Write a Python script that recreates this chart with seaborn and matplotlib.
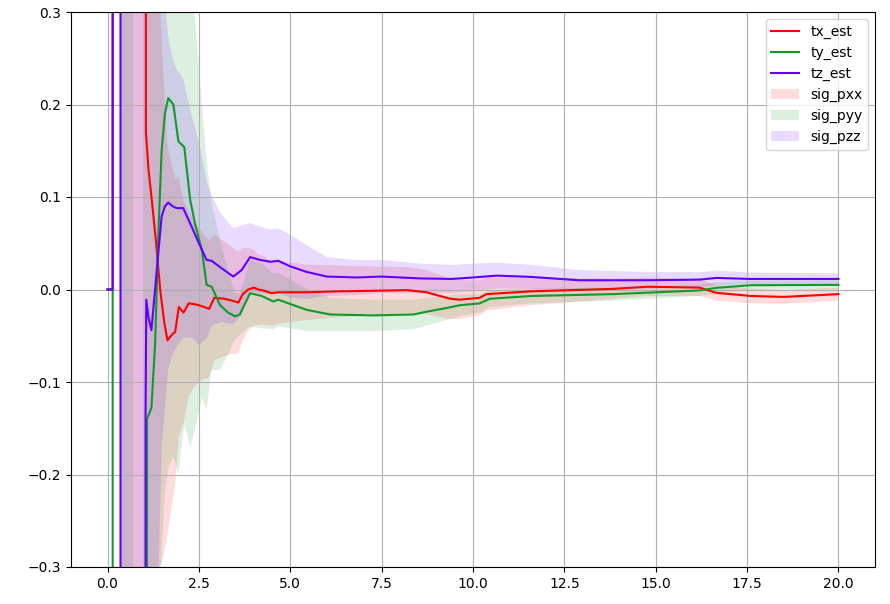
import numpy as np
import matplotlib
matplotlib.use("Agg")
import matplotlib.pyplot as plt
import seaborn as sns

# tx estimate and its sigma band
t_x = [0.0, 0.14, 0.15, 0.35, 0.36, 0.99, 1.0, 1.05, 1.12, 1.21, 1.33, 1.44, 1.55, 1.64, 1.78, 1.85,
       1.95, 2.08, 2.22, 2.4, 2.58, 2.78, 2.92, 3.2, 3.4, 3.58, 3.7, 3.85, 4.0, 4.13, 4.26, 4.49, 4.67,
       5.45, 6.33, 6.82, 8.2, 8.73, 9.37, 9.64, 10.18, 10.37, 11.6, 13.84, 14.78, 16.2, 16.66, 17.6,
       18.5, 20.0]
tx_est = [0.0, 0.0, 8.0, 8.0, 8.0, 8.0, 8.0, 0.17, 0.13, 0.097, 0.05, 0.0, -0.035, -0.055, -0.048, -0.046,
          -0.019, -0.025, -0.015, -0.016, -0.018, -0.021, -0.009, -0.010, -0.012, -0.014, -0.005, 0.0, 0.002,
          0.0, -0.001, -0.004, -0.003, -0.003, -0.002, -0.0017, -0.0007, -0.003, -0.010, -0.011, -0.009,
          -0.005, -0.002, 0.0007, 0.003, 0.002, -0.0036, -0.007, -0.008, -0.005]
sig_pxx = [0.0, 0.0, 0.0, 0.0, 9.0, 9.0, 9.0, 0.5, 0.46, 0.42, 0.35, 0.3, 0.25, 0.21, 0.18, 0.165,
           0.14, 0.12, 0.1, 0.088, 0.08, 0.074, 0.068, 0.062, 0.058, 0.055, 0.05, 0.045, 0.041, 0.038,
           0.037, 0.035, 0.034, 0.03, 0.028, 0.027, 0.025, 0.024, 0.022, 0.021, 0.019, 0.018, 0.015,
           0.011, 0.01, 0.009, 0.0085, 0.008, 0.0075, 0.007]

# ty estimate and its sigma band
t_y = [0.0, 0.14, 0.15, 0.35, 0.36, 0.7, 0.71, 0.96, 0.97, 1.04, 1.08, 1.2, 1.3, 1.4, 1.48, 1.57, 1.66,
       1.8, 1.94, 2.1, 2.26, 2.4, 2.58, 2.71, 2.85, 3.08, 3.3, 3.49, 3.62, 3.9, 4.22, 4.54, 4.67, 5.45,
       6.09, 7.27, 8.37, 8.73, 9.28, 9.64, 10.18, 10.46, 11.6, 13.84, 16.2, 16.66, 17.6, 20.0]
ty_est = [0.0, 0.0, -8.0, -8.0, -8.0, -8.0, -8.0, -8.0, -8.0, -8.0, -0.14, -0.128, -0.06, 0.07, 0.15,
          0.19, 0.207, 0.2, 0.16, 0.154, 0.097, 0.07, 0.043, 0.005, 0.003, -0.017, -0.025, -0.029, -0.027,
          -0.004, -0.007, -0.013, -0.011, -0.022, -0.027, -0.028, -0.027, -0.024, -0.02, -0.017, -0.015,
          -0.01, -0.007, -0.005, -0.001, 0.0018, 0.0046, 0.005]
sig_pyy = [0.0, 0.0, 0.0, 0.0, 9.0, 9.0, 0.0, 0.0, 9.0, 9.0, 0.5, 0.48, 0.46, 0.44, 0.43, 0.41, 0.4,
           0.38, 0.36, 0.3, 0.267, 0.22, 0.16, 0.135, 0.09, 0.07, 0.045, 0.025, 0.022, 0.036, 0.035,
           0.03, 0.029, 0.023, 0.018, 0.017, 0.016, 0.015, 0.013, 0.012, 0.01, 0.009, 0.008, 0.007,
           0.006, 0.006, 0.005, 0.005]

# tz estimate and its sigma band
t_z = [0.0, 0.14, 0.15, 0.35, 0.36, 0.99, 1.0, 1.04, 1.06, 1.12, 1.2, 1.3, 1.39, 1.48, 1.57, 1.66,
       1.78, 1.89, 2.07, 2.3, 2.5, 2.71, 2.85, 3.12, 3.44, 3.67, 3.9, 4.17, 4.45, 4.67, 5.0, 5.45, 6.0,
       6.82, 7.5, 8.55, 9.43, 10.0, 10.65, 11.6, 12.9, 14.78, 16.2, 16.66, 17.6, 20.0]
tz_est = [0.0, 0.0, 8.0, 8.0, -8.0, -8.0, -8.0, -0.14, -0.011, -0.03, -0.044, 0.0, 0.04, 0.079, 0.09,
          0.094, 0.09, 0.088, 0.088, 0.068, 0.05, 0.032, 0.031, 0.023, 0.014, 0.021, 0.035, 0.032, 0.030,
          0.031, 0.025, 0.019, 0.014, 0.013, 0.014, 0.012, 0.0114, 0.013, 0.015, 0.0136, 0.010, 0.010,
          0.0107, 0.0125, 0.0114, 0.0114]
sig_pzz = [0.0, 0.0, 0.0, 0.0, 9.0, 9.0, 9.0, 0.5, 0.48, 0.47, 0.46, 0.4, 0.36, 0.25, 0.22, 0.18,
           0.16, 0.15, 0.14, 0.12, 0.11, 0.085, 0.07, 0.058, 0.052, 0.048, 0.037, 0.036, 0.035, 0.035,
           0.034, 0.029, 0.021, 0.019, 0.018, 0.016, 0.015, 0.015, 0.014, 0.013, 0.011, 0.009, 0.008,
           0.008, 0.007, 0.006]

c_x = "#ff0000"
c_y = "#0f9a2a"
c_z = "#6200ff"

fig, ax = plt.subplots(figsize=(8.9, 6.04), dpi=100)
fig.subplots_adjust(left=71 / 890, right=875 / 890, top=1 - 12 / 604, bottom=1 - 567 / 604)

# Becslések
sns.lineplot(x=t_x, y=tx_est, color=c_x, label="tx_est", ax=ax, sort=False, estimator=None, linewidth=1.5)
sns.lineplot(x=t_y, y=ty_est, color=c_y, label="ty_est", ax=ax, sort=False, estimator=None, linewidth=1.5)
sns.lineplot(x=t_z, y=tz_est, color=c_z, label="tz_est", ax=ax, sort=False, estimator=None, linewidth=1.5)

# Szórás sávok
for t, est, sig, col, lab in [(t_x, tx_est, sig_pxx, c_x, "sig_pxx"),
                              (t_y, ty_est, sig_pyy, c_y, "sig_pyy"),
                              (t_z, tz_est, sig_pzz, c_z, "sig_pzz")]:
    est = np.array(est)
    sig = np.array(sig)
    ax.fill_between(t, est - sig, est + sig, color=col, alpha=0.14, linewidth=0, label=lab)

ax.set_xlim(-1, 21)
ax.set_ylim(-0.3, 0.3)
ax.set_xticks(np.arange(0, 20.1, 2.5))
ax.grid(True)
ax.set_xlabel("")
ax.set_ylabel("")
ax.legend(loc="upper right")

plt.savefig("out.png", dpi=100)
